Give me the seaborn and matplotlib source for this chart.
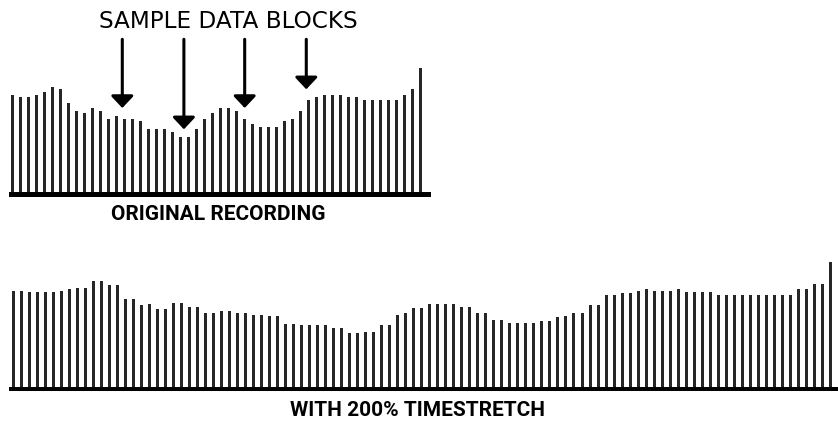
import matplotlib
matplotlib.use('Agg')
import matplotlib.pyplot as plt
import seaborn as sns

# bar heights (pixels above the baseline)
original = [97.8, 95.2, 95.2, 97.8, 100.2, 105.8, 103.2, 89.8, 81.8, 79.2,
            84.5, 81.8, 73.8, 76.5, 73.8, 73.8, 71.2, 63.2, 63.2, 63.2,
            60.5, 55.2, 55.2, 63.2, 73.8, 79.2, 84.5, 84.5, 81.8, 73.8,
            68.5, 65.8, 65.8, 65.8, 71.2, 73.8, 81.8, 92.5, 95.2, 97.8,
            97.8, 97.8, 95.2, 95.2, 92.5, 92.5, 92.5, 92.5, 92.5, 97.8,
            103.2, 124.5]

stretched = [96.3, 96.3, 95, 95, 95, 95, 96.3, 97.7, 99, 99,
             105.7, 105.7, 101.7, 101.7, 88.3, 88.3, 81.7, 83, 77.7, 77.7,
             84.3, 84.3, 80.3, 80.3, 73.7, 73.7, 76.3, 76.3, 73.7, 73.7,
             72.3, 72.3, 71, 71, 63, 63, 61.7, 61.7, 61.7, 61.7,
             59, 59, 53.7, 53.7, 55, 55, 61.7, 61.7, 72.3, 73.7,
             79, 79, 83, 83, 83, 83, 80.3, 80.3, 73.7, 73.7,
             67, 67, 64.3, 64.3, 64.3, 64.3, 65.7, 65.7, 69.7, 71,
             73.7, 73.7, 81.7, 81.7, 92.3, 92.3, 93.7, 93.7, 96.3, 97.7,
             96.3, 96.3, 96.3, 97.7, 95, 95, 95, 95, 92.3, 92.3,
             92.3, 92.3, 92.3, 92.3, 92.3, 92.3, 92.3, 92.3, 97.7, 97.7,
             103, 103, 125]

# arrows: bar position and tip height
arrow_pos = [13.7, 21.4, 29.0, 36.7]
arrow_tip = [84.5, 63.2, 84.5, 103.2]

W, H = 838, 424
fig = plt.figure(figsize=(W / 100, H / 100), dpi=100)

def px_axes(left, right, bottom, top):
    return fig.add_axes([left / W, 1 - bottom / H, (right - left) / W, (bottom - top) / H])

bar_color = '#262626'

# top panel
ax1 = px_axes(9, 431, 197, 30)
sns.barplot(x=list(range(len(original))), y=original, ax=ax1,
            color=bar_color, width=0.375, saturation=1)
ax1.set_xlim(-0.4625, 52.29)
ax1.set_ylim(-4.5, 162.5)
ax1.axhspan(-4.5, 0, color='black', lw=0)
ax1.axis('off')

for xp, yt in zip(arrow_pos, arrow_tip):
    ax1.annotate('', xy=(xp, yt), xytext=(xp, 153.2),
                 arrowprops=dict(arrowstyle='-|>,head_width=0.68,head_length=0.72',
                                 lw=2.2, color='black', shrinkA=0, shrinkB=0))

# bottom panel
ax2 = px_axes(9, 838, 391, 255)
sns.barplot(x=list(range(len(stretched))), y=stretched, ax=ax2,
            color=bar_color, width=0.375, saturation=1)
ax2.set_xlim(-0.537, 102.96)
ax2.set_ylim(-4, 132)
ax2.axhspan(-4, 0, color='black', lw=0)
ax2.axis('off')

fig.text(228 / W, 1 - 22 / H, 'SAMPLE DATA BLOCKS', ha='center', va='center',
         fontsize=16.7, family='DejaVu Sans', color='black')
fig.text(218 / W, 1 - 214.5 / H, 'ORIGINAL RECORDING', ha='center', va='center',
         fontsize=15, fontweight='bold', family='Roboto')
fig.text(417 / W, 1 - 410 / H, 'WITH 200% TIMESTRETCH', ha='center', va='center',
         fontsize=15, fontweight='bold', family='Roboto')

fig.savefig('out.png', dpi=100, facecolor='white')
